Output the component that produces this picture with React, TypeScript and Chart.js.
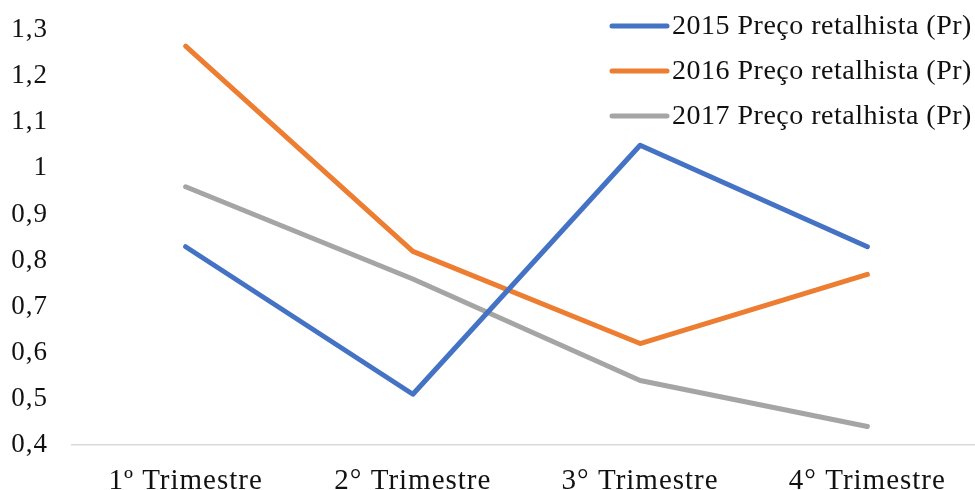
import React, { useEffect, useRef } from "react";
import { Chart, registerables } from "chart.js";

Chart.register(...registerables);

const categories = ["1º Trimestre", "2° Trimestre", "3° Trimestre", "4° Trimestre"];
const seriesNames = [
  "2015 Preço retalhista (Pr)",
  "2016 Preço retalhista (Pr)",
  "2017 Preço retalhista (Pr)",
];
const values2015 = [0.83, 0.51, 1.05, 0.83];
const values2016 = [1.265, 0.82, 0.62, 0.77];
const values2017 = [0.96, 0.76, 0.54, 0.44];
const seriesColors = ["#4472C4", "#ED7D31", "#A5A5A5"];
const yMin = 0.4;
const yMax = 1.3;
const yStep = 0.1;

const FONT = "'Liberation Serif', 'Times New Roman', serif";

const fmt = (v: number) => String(Number(v.toFixed(1))).replace(".", ",");

const spacingPlugin = {
  id: "letterSpacing",
  beforeDraw(chart: any) {
    (chart.ctx as any).letterSpacing = "1px";
  },
};

const legendPlugin = {
  id: "customLegend",
  afterDraw(chart: any) {
    const ctx = chart.ctx;
    ctx.save();
    (ctx as any).letterSpacing = "0.5px";
    const x0 = 612;
    const x1 = 667;
    const tx = 672;
    const y0 = 26;
    const dy = 45;
    chart.data.datasets.forEach((ds: any, i: number) => {
      const y = y0 + i * dy;
      ctx.strokeStyle = ds.borderColor;
      ctx.lineWidth = 5;
      ctx.lineCap = "round";
      ctx.beginPath();
      ctx.moveTo(x0, y);
      ctx.lineTo(x1, y);
      ctx.stroke();
      ctx.fillStyle = "#111";
      ctx.font = `28px ${FONT}`;
      ctx.textAlign = "left";
      ctx.textBaseline = "middle";
      ctx.fillText(ds.label, tx, y + 1);
    });
    ctx.restore();
    (ctx as any).letterSpacing = "0px";
  },
};

export default function App() {
  const ref = useRef<HTMLCanvasElement | null>(null);
  useEffect(() => {
    if (!ref.current) return;
    const data = [values2015, values2016, values2017];
    const chart = new Chart(ref.current, {
      type: "line",
      data: {
        labels: categories,
        datasets: seriesNames.map((name, i) => ({
          label: name,
          data: data[i],
          borderColor: seriesColors[i],
          backgroundColor: seriesColors[i],
          borderWidth: 5,
          pointRadius: 0,
          tension: 0,
          borderCapStyle: "round" as const,
          borderJoinStyle: "round" as const,
        })),
      },
      options: {
        responsive: false,
        animation: false,
        layout: { padding: { top: 30, right: 0, left: 0, bottom: 0 } },
        plugins: {
          legend: { display: false },
          tooltip: { enabled: false },
        },
        scales: {
          x: {
            offset: true,
            grid: { display: false, drawTicks: false },
            border: { display: true, color: "#D9D9D9", width: 1.5 },
            ticks: {
              color: "#111",
              font: { family: FONT, size: 29 },
              padding: 19,
              maxRotation: 0,
              autoSkip: false,
            },
            afterFit: (scale: any) => {
              scale.height = 45;
            },
          },
          y: {
            min: yMin,
            max: yMax,
            grid: { display: false, drawTicks: false },
            border: { display: false },
            ticks: {
              stepSize: yStep,
              color: "#111",
              font: { family: FONT, size: 27 },
              padding: 24,
              callback: (v: any) => fmt(Number(v)),
            },
            afterFit: (scale: any) => {
              scale.width = 72;
              scale.paddingTop = 0;
              scale.paddingBottom = 0;
            },
          },
        },
      },
      plugins: [spacingPlugin, legendPlugin],
    });
    return () => chart.destroy();
  }, []);
  return (
    <div
      style={{
        position: "fixed",
        left: 0,
        top: 0,
        width: 975,
        height: 490,
        overflow: "hidden",
        background: "#fff",
      }}
    >
      <canvas ref={ref} width={981} height={490} style={{ display: "block" }} />
    </div>
  );
}
